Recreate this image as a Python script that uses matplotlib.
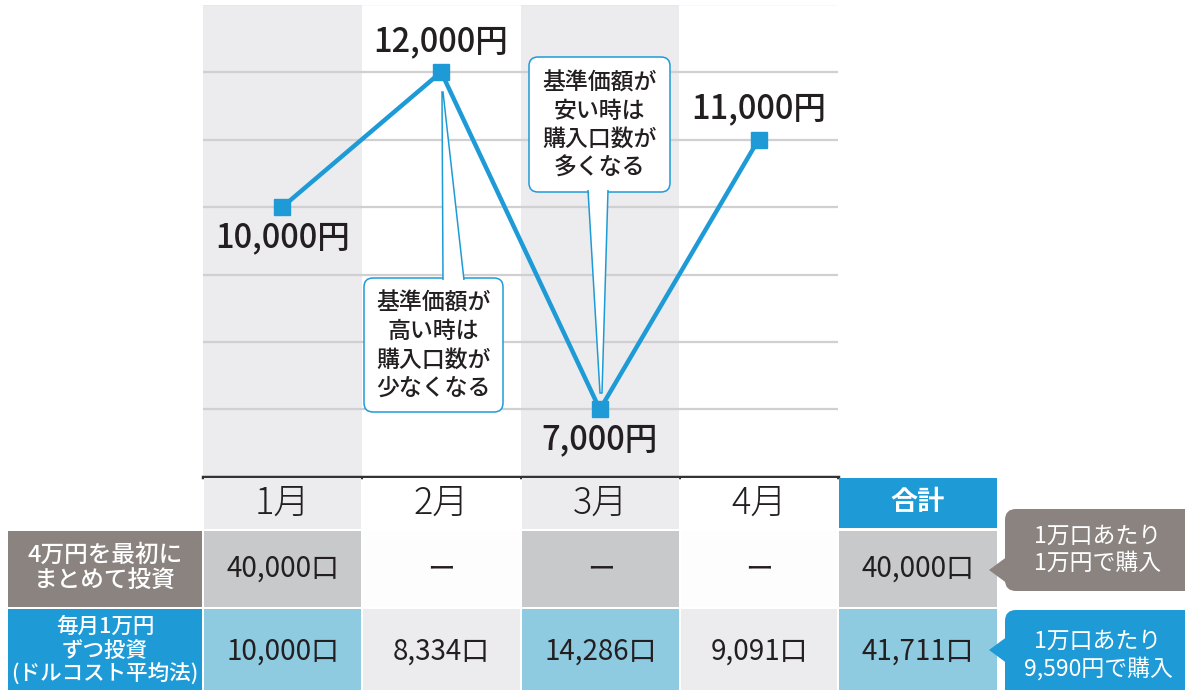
import matplotlib
matplotlib.use("Agg")
import matplotlib.pyplot as plt
from matplotlib.patches import Rectangle, FancyBboxPatch, Polygon

plt.rcParams['font.family'] = ['Noto Sans CJK JP', 'DejaVu Sans']

# data
months = ['1月', '2月', '3月', '4月']
price = [10000, 12000, 7000, 11000]
label_side = ['below', 'above', 'below', 'above']
lump_units = ['40,000口', 'ー', 'ー', 'ー']
lump_total = '40,000口'
dca_units = [10000, 8334, 14286, 9091]
dca_total = 41711
row_labels = ['4万円を最初に\nまとめて投資', '毎月1万円\nずつ投資\n(ドルコスト平均法)']
notes = ['1万口あたり\n1万円で購入', '1万口あたり\n9,590円で購入']
bubble_high = '基準価額が\n高い時は\n購入口数が\n少なくなる'
bubble_low = '基準価額が\n安い時は\n購入口数が\n多くなる'

BLUE = '#1e9bd7'
LIGHTBLUE = '#8ecbe0'
GRAY = '#c8c9cb'
PALE = '#ececee'
BROWN = '#8a8380'
TXT = '#231f20'

W, H = 1185, 690
fig = plt.figure(figsize=(W / 100, H / 100), dpi=100)
fig.patch.set_facecolor('white')

# chart axes (pixel box 203..838, 4.5..477)
ax = fig.add_axes([203 / W, 1 - 477 / H, (838 - 203) / W, (477 - 4.5) / H])
# overlay in pixel coords for table and callouts
ov = fig.add_axes([0, 0, 1, 1], zorder=5)
ov.set_xlim(0, W)
ov.set_ylim(H, 0)
ov.axis('off')

x = list(range(len(months)))
ax.set_xlim(-0.5, len(months) - 0.5)
ax.set_ylim(6000, 13000)
for i in x:
    if i % 2 == 0:
        ax.axvspan(i - 0.5, i + 0.5, color=PALE, lw=0, zorder=0)
for g in range(7000, 13001, 1000):
    ax.axhline(g, color='#d0d0d2', lw=1.6, zorder=1)
ax.axhline(6000, color='#333333', lw=2.5, zorder=4, clip_on=False)
ax.plot(x, price, color=BLUE, lw=3.2, marker='s', ms=11.5, zorder=3)
for i, v in enumerate(price):
    dy = 22 if label_side[i] == 'above' else -22
    ax.annotate(f'{v:,}円', (i, v), xytext=(0, dy), textcoords='offset points',
                ha='center', va='center', fontsize=23.5, fontweight='medium',
                color=TXT, zorder=5)
for s in ax.spines.values():
    s.set_visible(False)
ax.set_xticks([])
ax.set_yticks([])


def bubble(x0, y0, x1, y1, tail, text):
    box = FancyBboxPatch((x0, y0), x1 - x0, y1 - y0,
                         boxstyle='round,pad=0,rounding_size=9',
                         fc='white', ec=BLUE, lw=1.1,
                         transform=ov.transData, clip_on=False, zorder=2)
    ax.add_patch(box)
    ax.add_patch(Polygon(tail, closed=False, fc='white', ec=BLUE, lw=1.1,
                         transform=ov.transData, clip_on=False, zorder=2.1))
    ax.text((x0 + x1) / 2, (y0 + y1) / 2 + 1, text, transform=ov.transData,
            ha='center', va='center', fontsize=16.5, fontweight='medium',
            color=TXT, linespacing=1.3, zorder=2.2)


bubble(364, 278, 503, 412, [(443, 280), (442, 92), (443, 92), (464, 280)], bubble_high)
bubble(529, 57, 670, 192, [(588, 190), (600, 393), (602, 393), (608, 190)], bubble_low)

# table
cols = [203, 362, 521, 680, 838, 998]
cx = [(cols[i] + cols[i + 1]) / 2 for i in range(5)]


def cell(x0, x1, y0, y1, color):
    ov.add_patch(Rectangle((x0 + 1, y0 + 1), x1 - x0 - 2, y1 - y0 - 2,
                           fc=color, ec='none'))


# header row
for i, m in enumerate(months):
    cell(cols[i], cols[i + 1], 477, 530, PALE if i % 2 == 0 else 'white')
    ov.text(cx[i], 503, m, ha='center', va='center', fontsize=26,
            fontweight='light', color=TXT)
cell(cols[4], cols[5], 477, 529, BLUE)
ov.text(cx[4], 502, '合計', ha='center', va='center', fontsize=19.5,
        fontweight='bold', color='white')

# row 1
r1 = (530, 608)
cell(7, 203, *r1, BROWN)
ov.text(105, 568, row_labels[0], ha='center', va='center', fontsize=17,
        fontweight='medium', color='white', linespacing=1.15)
for i, u in enumerate(lump_units):
    cell(cols[i], cols[i + 1], *r1, GRAY if i % 2 == 0 else '#fdfdfd')
    ov.text(cx[i], 569, u, ha='center', va='center', fontsize=20, color=TXT)
cell(cols[4], cols[5], *r1, GRAY)
ov.text(cx[4], 569, lump_total, ha='center', va='center', fontsize=20, color=TXT)

# row 2
r2 = (608, 692)
cell(7, 203, *r2, BLUE)
ov.text(105, 651, row_labels[1], ha='center', va='center', fontsize=15.5,
        fontweight='medium', color='white', linespacing=1.12)
for i, u in enumerate(dca_units):
    cell(cols[i], cols[i + 1], *r2, LIGHTBLUE if i % 2 == 0 else PALE)
    ov.text(cx[i], 652, f'{u:,}口', ha='center', va='center', fontsize=20, color=TXT)
cell(cols[4], cols[5], *r2, LIGHTBLUE)
ov.text(cx[4], 652, f'{dca_total:,}口', ha='center', va='center', fontsize=20, color=TXT)


# callouts on the right
def note(y0, y1, tip_y, color, text):
    ov.add_patch(FancyBboxPatch((1005, y0), 200, y1 - y0,
                                boxstyle='round,pad=0,rounding_size=11',
                                fc=color, ec='none', clip_on=False))
    ov.add_patch(Polygon([(1008, tip_y - 14), (989, tip_y), (1008, tip_y + 14)],
                         closed=True, fc=color, ec='none'))
    ov.text(1098, (y0 + y1) / 2, text, ha='center', va='center', fontsize=16.5,
            color='white', linespacing=1.2)


note(509, 591, 570, BROWN, notes[0])
note(610, 700, 650, BLUE, notes[1])

fig.savefig('out.png', dpi=100)
